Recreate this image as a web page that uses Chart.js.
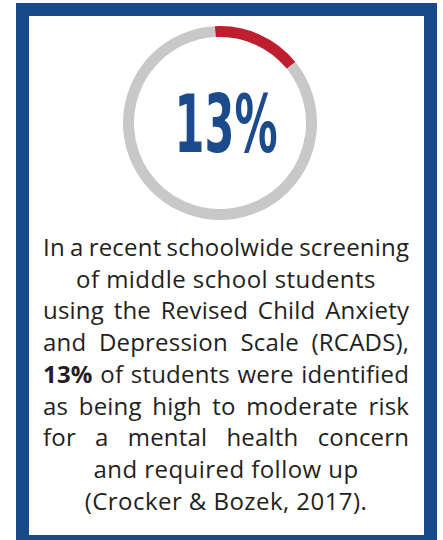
<!DOCTYPE html>
<html>
<head>
<meta charset="utf-8">
<script src="https://cdn.jsdelivr.net/npm/chart.js@4"></script>
<style>
  html, body { margin: 0; padding: 0; background: #fff; }
  body { width: 443px; height: 540px; position: relative; overflow: hidden; }
  .frame {
    position: absolute; left: 16px; top: 3px; width: 421px; height: 545px;
    box-sizing: border-box; border: 13.5px solid #184a8a; background: #fff;
  }
  #ring { position: absolute; left: 123px; top: 26px; width: 194px; height: 194px; }
  .copy {
    position: absolute; left: 43px; top: 231px; width: 366px;
    font-family: "Open Sans", sans-serif; font-size: 24px; letter-spacing: 0.45px;
    line-height: 31.7px; color: #231f20;
  }
  .copy div { white-space: nowrap; }
  .copy .j { text-align: justify; text-align-last: justify; word-spacing: -4px;
             letter-spacing: 0.2px; margin-right: -0.2px; }
  .copy .c { text-align: center; }
</style>
</head>
<body>
<div class="frame"></div>
<canvas id="ring"></canvas>
<div class="copy" id="copy"></div>
<script>
const categories = ['High to moderate risk', 'Other students'];
const shares = [15, 85];
const sliceColors = ['#be1e2d', '#c8c8c8'];
const headline = '13%';

const textLines = [
  'In a recent schoolwide screening',
  'of middle school students',
  'using the Revised Child Anxiety',
  'and Depression Scale (RCADS),',
  '<b>13%</b> of students were identified',
  'as being high to moderate risk',
  'for a mental health concern',
  'and required follow up',
  '(Crocker &amp; Bozek, 2017).',
];
const justified = [true, false, true, true, true, true, true, false, false];

const copy = document.getElementById('copy');
textLines.forEach((line, i) => {
  const d = document.createElement('div');
  d.className = justified[i] ? 'j' : 'c';
  d.innerHTML = line;
  copy.appendChild(d);
});

// big number in the middle of the ring
const centerLabel = {
  id: 'centerLabel',
  afterDraw(chart) {
    const { ctx } = chart;
    const arc = chart.getDatasetMeta(0).data[0];
    ctx.save();
    ctx.font = 'bold 80px "Liberation Sans Narrow", "DejaVu Sans Condensed", sans-serif';
    ctx.fillStyle = '#1b4b8b';
    ctx.textAlign = 'center';
    ctx.textBaseline = 'alphabetic';
    const w = ctx.measureText(headline).width;
    const sx = 103 / w;
    ctx.translate(arc.x + 6, arc.y + 29);
    ctx.scale(sx, 1);
    ctx.fillText(headline, 0, 0);
    ctx.restore();
  },
};

new Chart(document.getElementById('ring'), {
  type: 'doughnut',
  data: {
    labels: categories,
    datasets: [{
      data: shares,
      backgroundColor: sliceColors,
      borderWidth: 0,
      hoverOffset: 0,
    }],
  },
  options: {
    responsive: false,
    animation: false,
    cutout: '88.7%',
    rotation: -3,
    layout: { padding: 0 },
    plugins: { legend: { display: false }, tooltip: { enabled: false } },
    events: [],
  },
  plugins: [centerLabel],
});
</script>
</body>
</html>
